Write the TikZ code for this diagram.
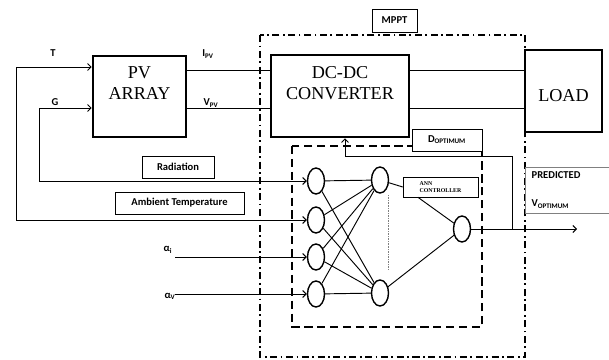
\documentclass[tikz,border=0pt]{standalone}
\usepackage{fontspec}
\setmainfont{Carlito}
\newfontfamily\blockserif{Liberation Serif}
\usetikzlibrary{shapes.geometric,arrows.meta,calc}

\begin{document}
\begin{tikzpicture}[x=0.03cm,y=-0.03cm,
  >={Straight Barb[length=3pt,width=6pt]},
  blk/.style={draw,line width=2.2pt,inner sep=0pt},
  bigtxt/.style={font=\blockserif\fontsize{15.5}{18}\selectfont,align=center},
  tag/.style={draw,thin,fill=white,font=\bfseries\fontsize{9}{10}\selectfont,minimum height=0.66cm,inner sep=2pt},
  lbl/.style={font=\bfseries\fontsize{9}{10}\selectfont},
  neuron/.style={draw,ellipse,line width=1.2pt,minimum width=0.51cm,minimum height=0.78cm,inner sep=0pt},
  wire/.style={line width=0.8pt},
  mpptline/.style={line width=1.2pt,dash pattern=on 6pt off 3pt on 1.5pt off 3pt},
  annline/.style={line width=1.2pt,dash pattern=on 7pt off 4pt}]
\useasboundingbox (0,0) rectangle (609,360);

\draw[mpptline] (260,35) rectangle (525,357);
\draw[annline] (292,146) rectangle (482,327);
\node[tag,minimum width=1.35cm,minimum height=0.69cm] (mppt) at (394.5,20.5) {MPPT};

\node[blk,minimum width=2.79cm,minimum height=2.43cm] (pv) at (139.5,96.5) {};
\node[bigtxt] (pvtxt) at (139.5,83) {PV\\ARRAY};
\node[blk,minimum width=4.14cm,minimum height=2.46cm] (dc) at (340,96) {};
\node[bigtxt] (dctxt) at (340,83) {DC-DC\\CONVERTER};
\node[blk,minimum width=2.31cm,minimum height=2.46cm] (load) at (563.5,91) {};
\node[bigtxt] (loadtxt) at (563.5,96) {LOAD};

\coordinate (ipv) at (0,70);
\coordinate (vpv) at (0,108);
\draw[wire] (pv.east|-ipv) -- (dc.west|-ipv);
\draw[wire] (pv.east|-vpv) -- (dc.west|-vpv);
\draw[wire] (dc.east|-ipv) -- (load.west|-ipv);
\draw[wire] (dc.east|-vpv) -- (load.west|-vpv);
\node[lbl] (ilab) at (208,54) {I\textsubscript{PV}};
\node[lbl] (vlab) at (211,103) {V\textsubscript{PV}};

\node[neuron] (in1) at (316,181) {};
\node[neuron] (in2) at (316,220) {};
\node[neuron] (in3) at (316,257) {};
\node[neuron] (in4) at (316,294) {};
\node[neuron] (h1) at (380,180) {};
\node[neuron] (h2) at (380,293) {};
\node[neuron] (out) at (462,229) {};

\node[lbl] (tlab) at (53,53) {T};
\node[lbl] (glab) at (55,102) {G};
\coordinate (tin) at (16,67);
\coordinate (tcorner) at (16,220);
\coordinate (gin) at (39,108);
\coordinate (gcorner) at (39,181);
\draw[wire,<->] (pv.west|-tin) -- (tin) -- (tcorner) -- (in2);
\draw[wire,<->] (pv.west|-gin) -- (gin) -- (gcorner) -- (in1);
\node[tag,minimum width=2.16cm] (rad) at (178,167) {Radiation};
\node[tag,minimum width=3.87cm] (amb) at (179.5,203) {Ambient Temperature};

\coordinate (ai) at (175,257);
\coordinate (av) at (175,294);
\draw[wire,->] (ai) -- (in3);
\draw[wire,->] (av) -- (in4);
\node[lbl] (ailab) at (168,250) {α\textsubscript{i}};
\node[lbl] (avlab) at (170,296) {α\textsubscript{V}};

\foreach \i in {1,...,4} {
  \draw[wire] (in\i) -- (h1);
  \draw[wire] (in\i) -- (h2);
}
\node[tag,minimum width=2.25cm,minimum height=0.6cm,align=left,font=\blockserif\bfseries\fontsize{5}{6}\selectfont] (ann) at (440.5,187) {ANN\\CONTROLLER};
\draw[wire] (h1) -- (ann.west);
\draw[wire] ($(ann.south west)!0.2!(ann.south east)$) -- (out);
\draw[wire] (h2) -- (out);
\draw[gray,densely dotted,thin] (388,195) -- (388,270);

\coordinate (vout) at (577,229);
\coordinate (tap) at (512,229);
\coordinate (fbturn) at (345,156);
\draw[wire,->] (out) -- (vout);
\draw[wire,->] (tap) |- (fbturn) -- (fbturn|-dc.south);
\node[tag,minimum width=2.1cm] (dopt) at (447,140) {D\textsubscript{OPTIMUM}};
\node[tag,draw=black!50,minimum height=1.38cm,inner xsep=0.2cm,text width=2.12cm,align=left] (pred) at (567,190) {PREDICTED\\[14pt]V\textsubscript{OPTIMUM}};
\end{tikzpicture}
\end{document}
